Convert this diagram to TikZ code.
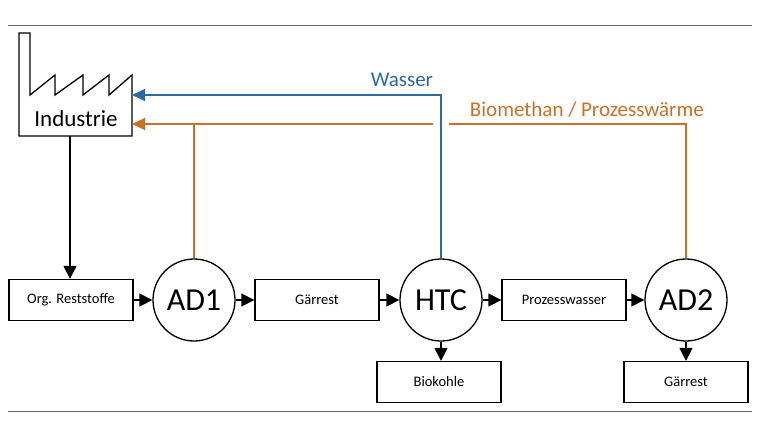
\documentclass[tikz,border=0pt]{standalone}
\usepackage{fontspec}
\setmainfont{Carlito}
\usepackage{tikz}
\usetikzlibrary{positioning,arrows.meta,calc}
\definecolor{wblue}{RGB}{46,104,160}
\definecolor{worange}{RGB}{204,112,40}
\begin{document}
\begin{tikzpicture}[x=1pt,y=-1pt,line width=1.3pt,
	box/.style={draw,minimum width=124pt,minimum height=41pt,inner sep=0pt,font=\fontsize{14.5}{16}\selectfont},
	reac/.style={draw,circle,minimum size=82pt,inner sep=0pt,font=\fontsize{32}{35}\selectfont},
	flow/.style={-{Triangle[length=13pt,width=13pt]}},
	back/.style={-{Triangle[length=13pt,width=12pt]}}]
	\useasboundingbox (0,0) rectangle (760,440);
	\draw[gray!80!black,line width=0.8pt] (8,25) -- (752,25);
	\draw[gray!80!black,line width=0.8pt] (8,411) -- (752,411);
	% factory
	\draw (19,136) -- (19,33) -- (30,33) -- (30,95) -- (55,75) -- (55,95) -- (83,75) -- (83,95) -- (109,75) -- (109,95) -- (132,75) -- (132,136) -- cycle;
	\node[font=\fontsize{23}{26}\selectfont] (ind) at (76,119) {Industrie};
	\coordinate (indb) at (70,136);
	\coordinate (indw) at (132,95);
	\coordinate (indo) at (132,124);

	\node[box] (org) at (71,300) {Org. Reststoffe};
	\node[reac] (ad1) at (194,300) {AD1};
	\node[box] (gr1) at (317,300) {Gärrest};
	\node[reac] (htc) at (441,300) {HTC};
	\node[box] (pw) at (564,300) {Prozesswasser};
	\node[reac] (ad2) at (686,300) {AD2};
	\node[box] (bio) at (439,382) {Biokohle};
	\node[box] (gr2) at (686,382) {Gärrest};

	\draw[flow] (indb) -- (org.north -| indb);
	\draw[flow] (org) -- (ad1);
	\draw[flow] (ad1) -- (gr1);
	\draw[flow] (gr1) -- (htc);
	\draw[flow] (htc) -- (pw);
	\draw[flow] (pw) -- (ad2);
	\draw[flow] (htc) -- (htc |- bio.north);
	\draw[flow] (ad2) -- (gr2);

	% recycle streams
	\draw[back,wblue] (htc.north) |- (indw);
	\node[wblue,anchor=south east,font=\fontsize{21}{24}\selectfont] (wlab) at (437,91) {Wasser};
	\draw[back,worange] (ad2.north) |- (449,124) (433,124) -- (indo);
	\draw[worange] (ad1.north) -- (ad1.north |- indo);
	\node[worange,anchor=south west,font=\fontsize{21}{24}\selectfont] (olab) at (466,121) {Biomethan / Prozesswärme};
\end{tikzpicture}
\end{document}
